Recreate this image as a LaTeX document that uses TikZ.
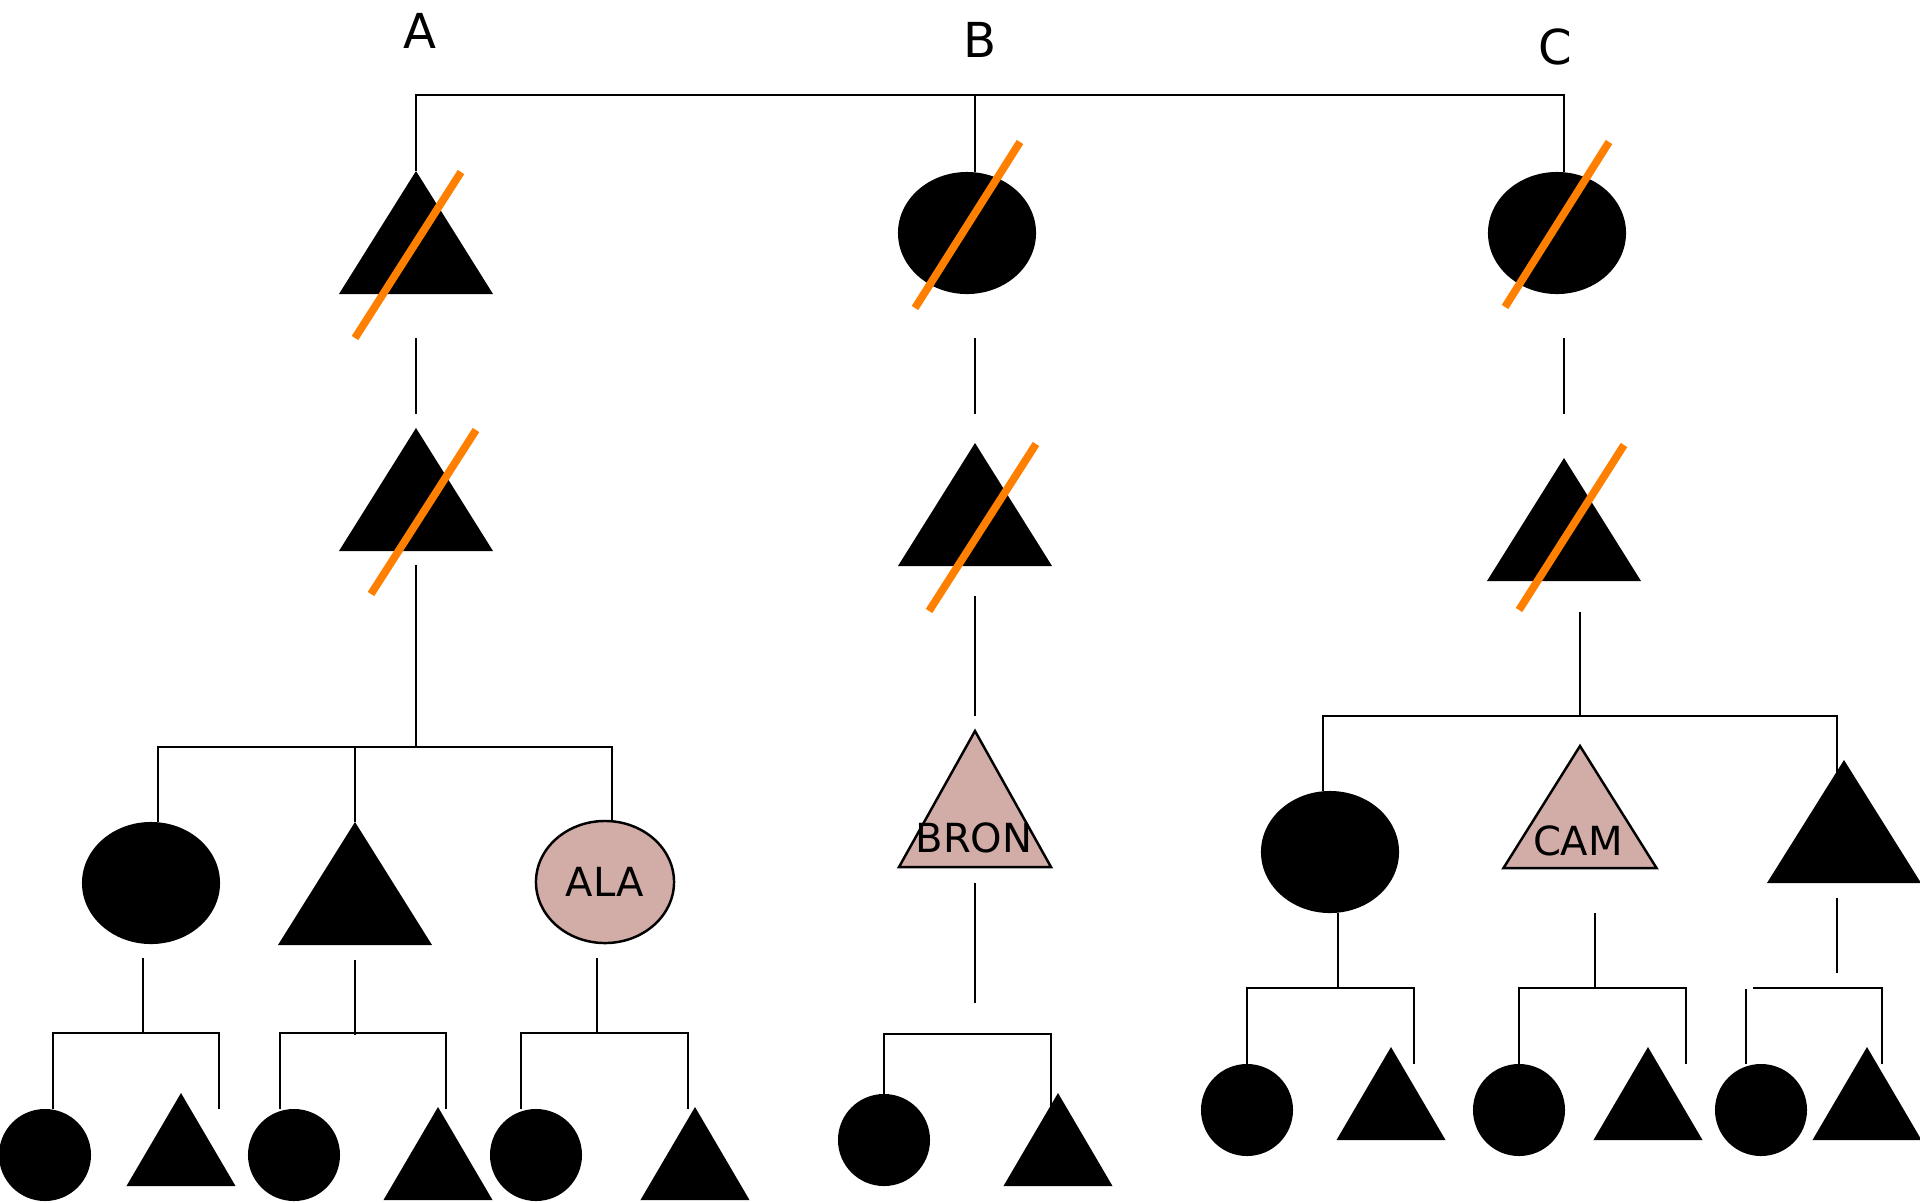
\documentclass[tikz,border=0pt]{standalone}
\usepackage{fontspec}
\setmainfont{DejaVu Sans}
\usepackage{tikz}
\usetikzlibrary{shapes.geometric}

\definecolor{strikeorange}{RGB}{255,127,0}
\definecolor{indexpink}{RGB}{210,173,167}

\tikzset{
	kin/.style={line width=0.55pt},
	dead/.style={draw=strikeorange,line width=2.2pt},
	male/.style={isosceles triangle,isosceles triangle stretches,shape border rotate=90,anchor=apex,fill=black,inner sep=0pt,outer sep=0pt,minimum width=1.54cm,minimum height=1.23cm},
	female/.style={ellipse,fill=black,inner sep=0pt,outer sep=0pt,minimum width=1.38cm,minimum height=1.22cm},
	boy/.style={male,minimum width=1.09cm,minimum height=0.93cm},
	girl/.style={circle,fill=black,inner sep=0pt,outer sep=0pt,minimum size=0.92cm},
	index/.style={fill=indexpink,draw=black,line width=0.7pt},
	famname/.style={font=\fontsize{13.7}{16}\selectfont},
	tag/.style={font=\fontsize{11.4}{13}\selectfont}
}

\begin{document}
\begin{tikzpicture}[x=0.01cm,y=-0.01cm]
	\useasboundingbox (0,0) rectangle (1920,1202);
	\node [famname] (famA) at (420,31) {A};
	\node [famname] (famB) at (980,40) {B};
	\node [famname] (famC) at (1555,47) {C};
	\draw (416,171) node(A1) [male] {};
	\draw (967,233) node(B1) [female] {};
	\draw (1557,233) node(C1) [female] {};
	\draw (416,428) node(A2) [male] {};
	\draw (975,443) node(B2) [male] {};
	\draw (1564,458) node(C2) [male] {};
	\draw (151,883) node(A3a) [female] {};
	\draw (355,822) node(A3b) [male] {};
	\draw (605,882) node(A3c) [female,index,tag] {ALA};
	\draw (975,731) node(B3) [male,index,minimum height=1.36cm,minimum width=1.52cm] {};
	\node [tag] (B3t) at (974,838) {BRON};
	\draw (1330,852) node(C3a) [female] {};
	\draw (1580,746) node(C3b) [male,index,minimum height=1.22cm,minimum width=1.53cm] {};
	\node [tag] (C3t) at (1578,841) {CAM};
	\draw (1844,760) node(C3c) [male] {};
	\draw (45,1155) node(A4a) [girl] {};
	\draw (181,1093) node(A4b) [boy] {};
	\draw (294,1155) node(A4c) [girl] {};
	\draw (438,1107) node(A4d) [boy] {};
	\draw (536,1155) node(A4e) [girl] {};
	\draw (695,1107) node(A4f) [boy] {};
	\draw (884,1140) node(B4a) [girl] {};
	\draw (1058,1093) node(B4b) [boy] {};
	\draw (1247,1110) node(C4a) [girl] {};
	\draw (1391,1047) node(C4b) [boy] {};
	\draw (1519,1110) node(C4c) [girl] {};
	\draw (1648,1047) node(C4d) [boy] {};
	\draw (1761,1110) node(C4e) [girl] {};
	\draw (1867,1047) node(C4f) [boy] {};
	\draw[kin] (A1.apex) -- ++(0,-76) -| (C1.north -| C2.apex);
	\draw[kin] (B1.north -| B2.apex) -- ++(0,-76);
	\draw[kin,shorten <=0.44cm,shorten >=0.14cm] (A1.lower side) -- (A2.apex);
	\draw[kin,shorten <=0.44cm,shorten >=0.29cm] (B1.south -| B2.apex) -- (B2.apex);
	\draw[kin,shorten <=0.44cm,shorten >=0.44cm] (C1.south -| C2.apex) -- (C2.apex);
	\draw[kin,shorten <=0.14cm] (A2.lower side) -- ++(0,196);
	\draw[kin] ([xshift=0.07cm]A3a.north) -- ++(0,-75) -| ([xshift=0.07cm]A3c.north);
	\draw[kin] (A3b.apex) -- ++(0,-75);
	\draw[kin,shorten <=0.30cm,shorten >=0.15cm] (B2.lower side) -- (B3.apex);
	\draw[kin,shorten <=0.31cm,shorten >=0.30cm] (C2.lower side -| C3b.apex) -- (C3b.apex);
	\draw[kin] ([xshift=-0.07cm]C3a.north) -- ++(0,-75) -| ([xshift=-0.07cm,yshift=-0.12cm]C3c.apex);
	\draw[kin,shorten <=0.14cm] ([xshift=-0.08cm]A3a.south) -- ++(0,89);
	\draw[kin] ([xshift=0.08cm]A4a.north) -- ++(0,-76) -- ++(166,0) -- ++(0,76);
	\draw[kin,shorten <=0.15cm] (A3b.lower side) -- ++(0,90);
	\draw[kin] ([xshift=-0.14cm]A4c.north) -- ++(0,-76) -- ++(166,0) -- ++(0,76);
	\draw[kin,shorten <=0.15cm] ([xshift=-0.08cm]A3c.south) -- ++(0,90);
	\draw[kin] ([xshift=-0.15cm]A4e.north) -- ++(0,-76) -- ++(167,0) -- ++(0,76);
	\draw[kin,shorten <=0.16cm,shorten >=0.30cm] (B3.lower side) -- ++(0,166);
	\draw[kin] (B4a.north) -- ++(0,-60) -- ++(167,0) -- ++(0,74);
	\draw[kin] ([xshift=0.08cm]C3a.south) -- ++(0,75);
	\draw[kin] (C4a.north) -- ++(0,-76) -- ++(167,0) -- ++(0,76);
	\draw[kin,shorten <=0.45cm] ([xshift=0.15cm]C3b.lower side) -- ++(0,120);
	\draw[kin] (C4c.north) -- ++(0,-76) -- ++(167,0) -- ++(0,76);
	\draw[kin,shorten <=0.15cm,shorten >=0.15cm] ([xshift=-0.07cm]C3c.lower side) -- ++(0,105);
	\draw[kin] (C4e.north) ++(-15,0) -- ++(0,-75);
	\draw[kin] (C4e.north) ++(-8,-76) -- ++(129,0) -- ++(0,76);
	\draw[dead] (A1.apex) ++(45,1) -- ++(-106,166);
	\draw[dead] (B1.center) ++(53,-91) -- ++(-105,166);
	\draw[dead] (C1.center) ++(52,-91) -- ++(-104,165);
	\draw[dead] (A2.apex) ++(60,2) -- ++(-105,164);
	\draw[dead] (B2.apex) ++(61,1) -- ++(-107,167);
	\draw[dead] (C2.apex) ++(60,-13) -- ++(-105,165);
\end{tikzpicture}
\end{document}
